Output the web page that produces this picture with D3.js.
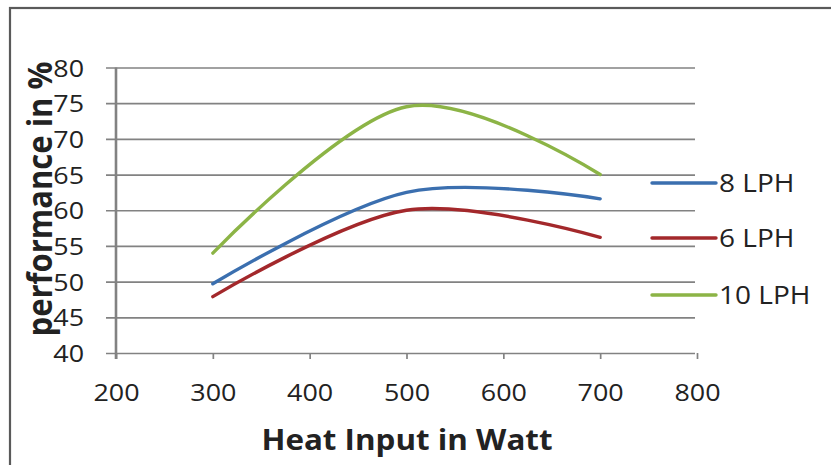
<!DOCTYPE html>
<html>
<head>
<meta charset="utf-8">
<script src="https://cdn.jsdelivr.net/npm/d3@7"></script>
<style>
  html, body { margin: 0; padding: 0; background: #fff; }
  svg { display: block; }
  text { font-family: "Open Sans", "Liberation Sans", sans-serif; fill: #222; }
</style>
</head>
<body>
<svg id="chart" width="831" height="465"></svg>
<script>
// Heat input (W) at which performance was measured
const heatInput = [300, 500, 700];

// Performance (%) for each flow rate
const perf8LPH  = [49.7, 62.5, 61.6];
const perf6LPH  = [47.9, 60.0, 56.2];
const perf10LPH = [54.0, 74.5, 65.0];

const seriesNames  = ["8 LPH", "6 LPH", "10 LPH"];
const seriesColors = ["#3b6faf", "#a3282b", "#8cb446"];

const xTicks = [200, 300, 400, 500, 600, 700, 800];
const yTicks = [40, 45, 50, 55, 60, 65, 70, 75, 80];

const xTitle = "Heat Input in Watt";
const yTitle = "performance in %";

const series = [perf8LPH, perf6LPH, perf10LPH].map((vals, i) => ({
  name: seriesNames[i],
  color: seriesColors[i],
  points: heatInput.map((h, j) => ({ x: h, y: vals[j] }))
}));

// the whole chart uses slightly widened lettering
const SX = 1.12;

const svg = d3.select("#chart");

// outer chart frame (only the left and top edges fall inside the view)
svg.append("rect")
  .attr("x", 10).attr("y", 8)
  .attr("width", 840).attr("height", 480)
  .attr("fill", "none")
  .attr("stroke", "#5a5a5a")
  .attr("stroke-width", 2.2);

const x = d3.scaleLinear().domain([200, 800]).range([116, 697]);
const y = d3.scaleLinear().domain([40, 80]).range([353, 67.5]);

const gridColor = "#828282";

// horizontal gridlines, each starting with an outside tick mark
const yAxis = d3.axisLeft(y).tickValues(yTicks).tickSize(10);
const gy = svg.append("g").attr("transform", `translate(${x(200)},0)`).call(yAxis);
gy.select(".domain").remove();
gy.selectAll(".tick line")
  .attr("x2", -10).attr("x1", x(800) - x(200) - 2)
  .attr("stroke", gridColor).attr("stroke-width", 1.7);
gy.selectAll(".tick text")
  .attr("x", null).attr("dy", "0.36em")
  .attr("text-anchor", "end")
  .attr("transform", `translate(-32,0) scale(${SX},1)`)
  .attr("font-size", 24).attr("font-family", "Open Sans, sans-serif")
  .attr("fill", "#222");

// vertical value axis line
svg.append("line")
  .attr("x1", x(200)).attr("x2", x(200))
  .attr("y1", y(80)).attr("y2", y(40) + 6)
  .attr("stroke", gridColor).attr("stroke-width", 2.6);

// category axis
const xAxis = d3.axisBottom(x).tickValues(xTicks).tickSize(6);
const gx = svg.append("g").attr("transform", `translate(0,${y(40)})`).call(xAxis);
gx.select(".domain").remove();
gx.selectAll(".tick line").attr("stroke", gridColor).attr("stroke-width", 1.7);
gx.selectAll(".tick text")
  .attr("y", null).attr("dy", null)
  .attr("transform", `translate(0,48) scale(${SX},1)`)
  .attr("font-size", 24).attr("font-family", "Open Sans, sans-serif")
  .attr("fill", "#222");

// data lines, smoothed
const line = d3.line()
  .x(d => x(d.x))
  .y(d => y(d.y))
  .curve(d3.curveCardinal.tension(0));

svg.append("g").selectAll("path")
  .data(series)
  .join("path")
  .attr("d", d => line(d.points))
  .attr("fill", "none")
  .attr("stroke", d => d.color)
  .attr("stroke-width", 3.4)
  .attr("stroke-linecap", "round");

// legend
const legendY = [183, 238, 295];
const lg = svg.append("g").selectAll("g")
  .data(series)
  .join("g")
  .attr("transform", (d, i) => `translate(652,${legendY[i]})`);
lg.append("line")
  .attr("x1", 0).attr("x2", 64)
  .attr("stroke", d => d.color)
  .attr("stroke-width", 3.4)
  .attr("stroke-linecap", "round");
lg.append("text")
  .attr("dy", "0.36em")
  .attr("transform", `translate(67,0) scale(${SX},1)`)
  .attr("font-size", 25)
  .text(d => d.name);

// axis titles
svg.append("text")
  .attr("transform", `translate(407,450) scale(${SX},1)`)
  .attr("text-anchor", "middle")
  .attr("font-size", 28).attr("font-weight", "bold")
  .text(xTitle);

svg.append("text")
  .attr("transform", `translate(52,199) scale(${SX},1) rotate(-90)`)
  .attr("text-anchor", "middle")
  .attr("font-size", 31).attr("font-weight", "bold")
  .text(yTitle);
</script>
</body>
</html>
